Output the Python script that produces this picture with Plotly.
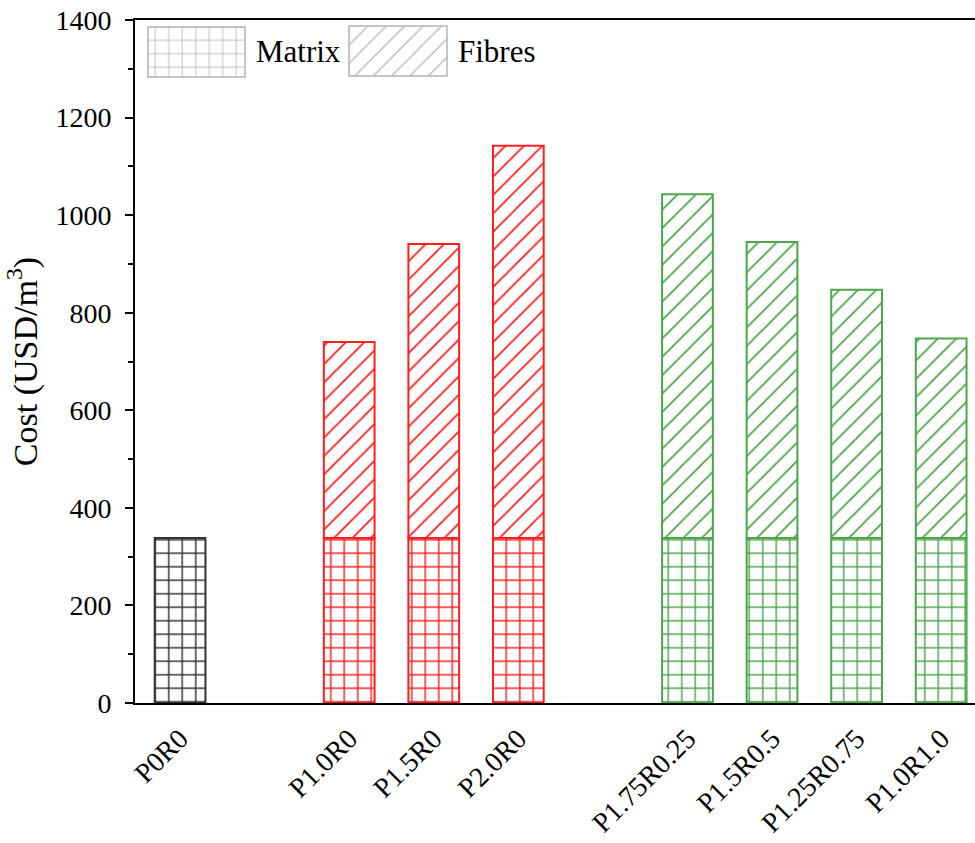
import plotly.graph_objects as go

# ---- data ----
groups = [
    ["P0R0"],
    ["P1.0R0", "P1.5R0", "P2.0R0"],
    ["P1.75R0.25", "P1.5R0.5", "P1.25R0.75", "P1.0R1.0"],
]
group_colors = ["#333333", "#ff1f1f", "#4ca64c"]
matrix_cost = [338, 338, 338, 338, 338, 338, 338, 338]
total_cost = [338, 740, 941, 1142, 1043, 945, 847, 747]
fibre_cost = [t - m for t, m in zip(total_cost, matrix_cost)]

# ---- positions derived from the grouping (one empty slot between groups) ----
labels, xpos, colors = [], [], []
pos = 0
for gi, g in enumerate(groups):
    for name in g:
        labels.append(name)
        xpos.append(pos)
        colors.append(group_colors[gi])
        pos += 1
    pos += 1

FONT = "Liberation Serif"
fig = go.Figure()

for i in range(len(labels)):
    c = colors[i]
    fig.add_trace(go.Bar(
        x=[xpos[i]], y=[matrix_cost[i]], width=0.6,
        marker=dict(color="white", line=dict(color=c, width=2),
                    pattern=dict(shape="+", fgcolor=c, bgcolor="white", fgopacity=1,
                                 size=13.5, solidity=0.2, fillmode="overlay")),
        showlegend=False, hoverinfo="skip"))
    if fibre_cost[i] > 0:
        fig.add_trace(go.Bar(
            x=[xpos[i]], y=[fibre_cost[i]], base=[matrix_cost[i]], width=0.6,
            marker=dict(color="white", line=dict(color=c, width=2),
                        pattern=dict(shape="/", fgcolor=c, bgcolor="white", fgopacity=1,
                                     size=13, solidity=0.14, fillmode="overlay")),
            showlegend=False, hoverinfo="skip"))

# ---- custom legend drawn on an overlay axis in pixel-like units ----
leg_gray = "#b4b4b4"
fig.add_trace(go.Bar(x=[61.5], y=[50], base=[626], width=97, xaxis="x2", yaxis="y2",
                     marker=dict(color="white", line=dict(color=leg_gray, width=1.5),
                                 pattern=dict(shape="+", fgcolor=leg_gray, bgcolor="white",
                                              fgopacity=1, size=13.5, solidity=0.12,
                                              fillmode="overlay")),
                     showlegend=False, hoverinfo="skip"))
fig.add_trace(go.Bar(x=[263], y=[50], base=[627], width=98, xaxis="x2", yaxis="y2",
                     marker=dict(color="white", line=dict(color=leg_gray, width=1.5),
                                 pattern=dict(shape="/", fgcolor=leg_gray, bgcolor="white",
                                              fgopacity=1, size=13, solidity=0.1,
                                              fillmode="overlay")),
                     showlegend=False, hoverinfo="skip"))
fig.add_annotation(x=119, y=652, xref="x2", yref="y2", text="Matrix", showarrow=False,
                   xanchor="left", yanchor="middle", font=dict(family=FONT, size=31, color="black"))
fig.add_annotation(x=321, y=652, xref="x2", yref="y2", text="Fibres", showarrow=False,
                   xanchor="left", yanchor="middle", font=dict(family=FONT, size=31, color="black"))

fig.update_layout(
    width=975, height=843,
    margin=dict(l=135, r=0, t=20, b=140),
    paper_bgcolor="white", plot_bgcolor="white",
    barmode="overlay",
    font=dict(family=FONT, color="black"),
    xaxis=dict(range=[-0.533, 9.40], tickvals=xpos, ticktext=labels, tickangle=-45,
               tickfont=dict(family=FONT, size=28), showline=True, linecolor="black",
               linewidth=2, mirror=True, ticks="", showgrid=False, zeroline=False,
               ticklabelstandoff=6),
    yaxis=dict(range=[0, 1400], dtick=200, tickfont=dict(family=FONT, size=28),
               showline=True, linecolor="black", linewidth=2, ticks="outside",
               ticklen=8, tickwidth=2, tickcolor="black", showgrid=False, zeroline=False,
               ticklabelstandoff=8,
               minor=dict(dtick=100, ticks="outside", ticklen=5, tickwidth=2, tickcolor="black"),
               title=dict(text="Cost (USD/m<sup>3</sup>)", font=dict(family=FONT, size=34),
                          standoff=8)),
    xaxis2=dict(overlaying="x", range=[0, 840], visible=False, domain=[0, 1]),
    yaxis2=dict(overlaying="y", range=[0, 683], visible=False),
)

fig.write_html("out.html")
